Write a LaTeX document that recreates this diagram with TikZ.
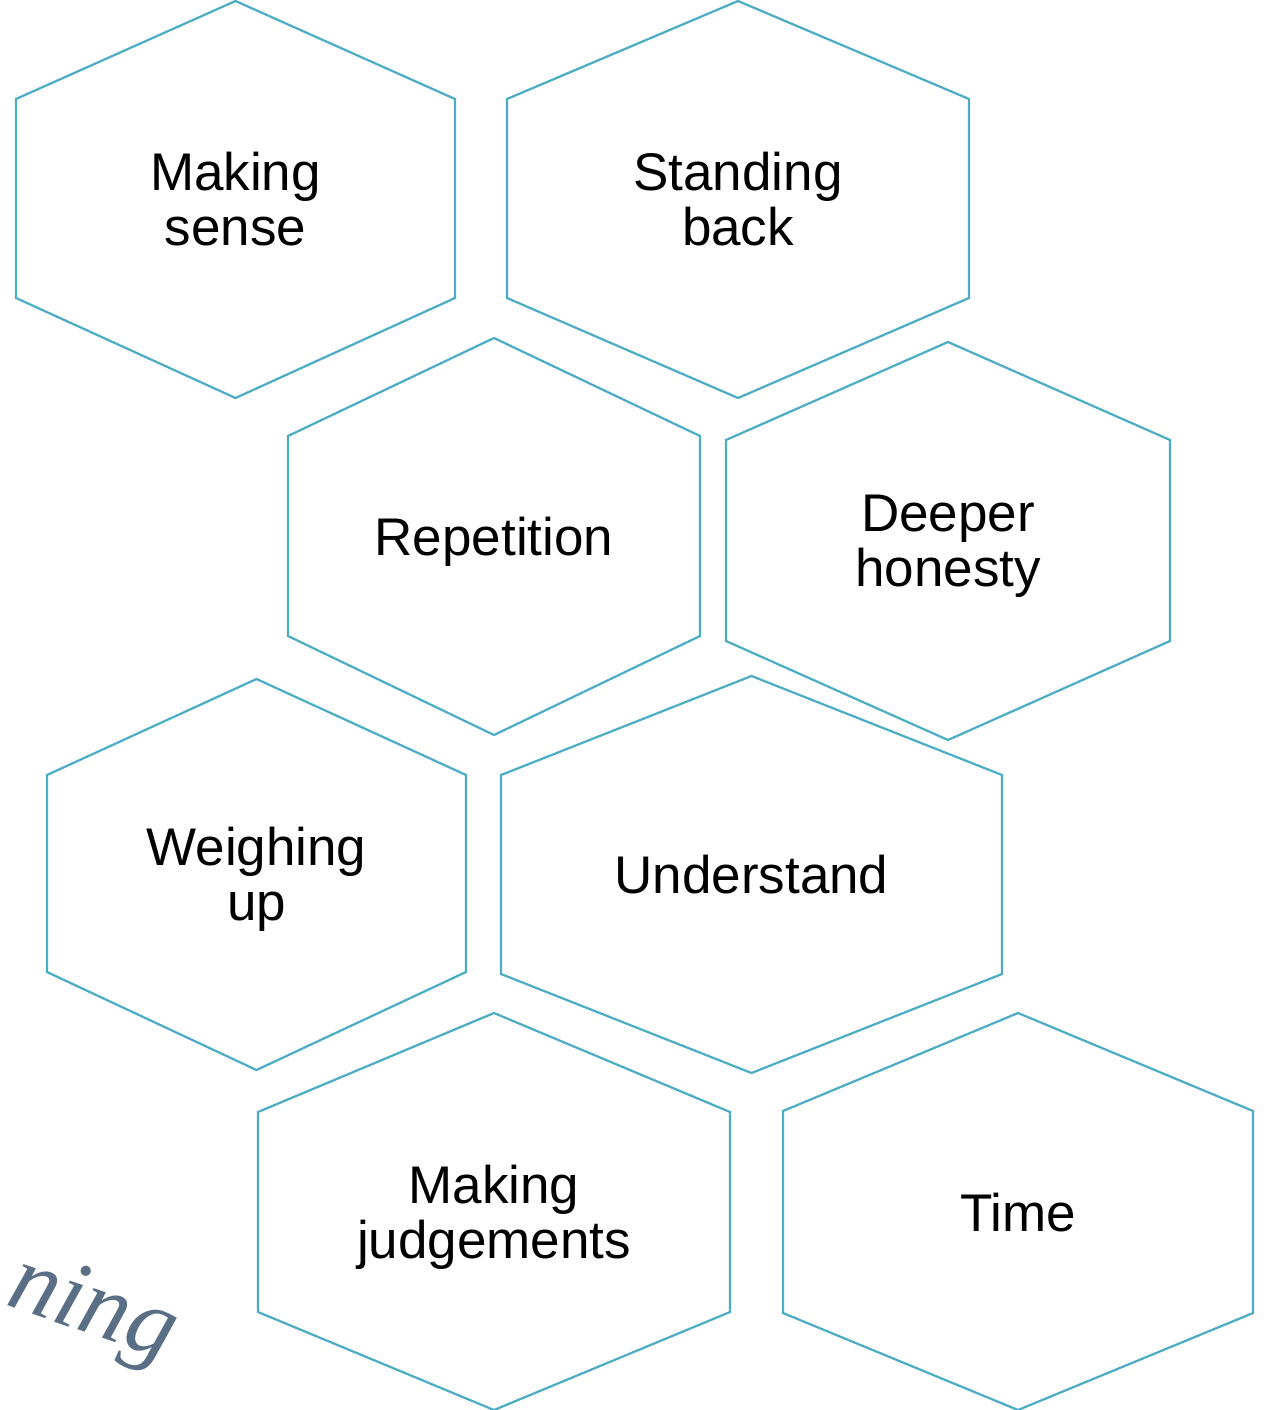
\documentclass[tikz,border=0pt]{standalone}
\usepackage{fontspec}
\setmainfont{Liberation Sans}
\newfontfamily\scriptface{Liberation Serif}
\begin{document}
\begin{tikzpicture}[x=1pt,y=-1pt,
  cell/.style={draw=cellblue, line width=2.2pt, line join=miter},
  celltext/.style={font=\fontsize{53}{55}\selectfont, align=center, inner sep=0pt, text depth=0pt, text=black}]
\definecolor{cellblue}{HTML}{4BACC6}
\definecolor{inkblue}{HTML}{5A6F86}
\useasboundingbox (0,0) rectangle (1271,1410);
\clip (0,0) rectangle (1271,1410);
\fill[white] (0,0) rectangle (1271,1410);

% #1 name, #2 left, #3 right, #4 top, #5 upper shoulder, #6 lower shoulder, #7 bottom, #8 text
\newcommand\honeycell[8]{%
  \pgfmathsetmacro\cx{(#2+#3)/2}%
  \pgfmathsetmacro\cy{(#5+#6)/2}%
  \draw[cell] (\cx,#4) -- (#3,#5) -- (#3,#6) -- (\cx,#7) -- (#2,#6) -- (#2,#5) -- cycle;
  \node[celltext] (#1) at (\cx,\cy) {#8};
}

\honeycell{sense}{16}{455}{1}{99}{298}{398}{Making\\sense}
\honeycell{back}{507}{969}{1}{99}{298}{398}{Standing\\back}
\honeycell{rep}{288}{700}{338}{436}{636}{735}{Repetition}
\honeycell{honest}{726}{1170}{342}{440}{641}{740}{Deeper\\honesty}
\honeycell{weigh}{47}{466}{679}{775}{972}{1070}{Weighing\\up}
\honeycell{under}{501}{1002}{676}{775}{974}{1073}{Understand}
\honeycell{judge}{258}{730}{1013}{1112}{1312}{1410}{Making\\judgements}
\honeycell{time}{783}{1253}{1013}{1111}{1313}{1410}{Time}

% tail of the word running off the left edge
\node[font=\scriptface\itshape\fontsize{96}{98}\selectfont, text=inkblue, rotate=-19, inner sep=0pt]
  (word) at (92,1312) {ning};
\end{tikzpicture}
\end{document}
